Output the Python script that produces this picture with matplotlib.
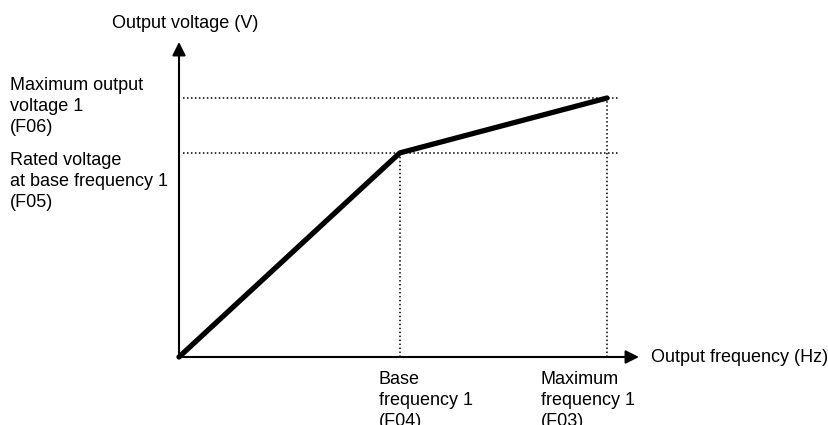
import matplotlib
matplotlib.use("Agg")
import matplotlib.pyplot as plt

# Data (normalised units: max frequency = 1, max voltage = 1)
freq_points = [0.0, 0.516, 1.0]          # origin, base frequency (F04), max frequency (F03)
volt_points = [0.0, 0.788, 1.0]          # origin, rated voltage (F05), max output voltage (F06)
x_axis_label = "Output frequency (Hz)"
y_axis_label = "Output voltage (V)"
x_tick_labels = ["Base\nfrequency 1\n(F04)", "Maximum\nfrequency 1\n(F03)"]
y_tick_labels = ["Rated voltage\nat base frequency 1\n(F05)", "Maximum output\nvoltage 1\n(F06)"]

plt.rcParams['font.family'] = ['Liberation Sans', 'DejaVu Sans']
W, H = 829, 425
X0, Y0 = 179, 357      # origin in pixels (from top-left)
X1, Y1 = 607, 98       # x=1 / y=1 in pixels
fig = plt.figure(figsize=(W / 100, H / 100), dpi=100)
ax = fig.add_axes([X0 / W, (H - Y0) / H, (X1 - X0) / W, (Y0 - Y1) / H])
ax.set_xlim(0, 1)
ax.set_ylim(0, 1)
ax.axis('off')


def dx(px):
    return (px - X0) / (X1 - X0)


def dy(py):
    return (Y0 - py) / (Y0 - Y1)


fs = 13
ls = 1.3

# axes arrows
ax.annotate("", xy=(dx(639), 0), xytext=(0, 0),
            arrowprops=dict(arrowstyle='-|>', color='black', lw=1.5,
                            mutation_scale=20, shrinkA=0, shrinkB=0),
            annotation_clip=False)
ax.annotate("", xy=(0, dy(42)), xytext=(0, 0),
            arrowprops=dict(arrowstyle='-|>', color='black', lw=1.5,
                            mutation_scale=20, shrinkA=0, shrinkB=0),
            annotation_clip=False)

# dotted guides
dot = (0, (1, 1.6))
for v in volt_points[1:]:
    ax.plot([dx(183), dx(620)], [v, v], color='black', lw=1.1, linestyle=dot, clip_on=False)
for f, v in zip(freq_points[1:], volt_points[1:]):
    ax.plot([f, f], [0, v], color='black', lw=1.1, linestyle=dot, clip_on=False)

# V/f curve
ax.plot(freq_points, volt_points, color='black', lw=3.8, solid_capstyle='round',
        solid_joinstyle='round', clip_on=False, zorder=5)

# labels
ax.text(dx(651), 0, x_axis_label, fontsize=fs, va='center', ha='left')
ax.text(dx(112), dy(23), y_axis_label, fontsize=fs, va='center', ha='left')

x_label_left = [379, 541]
for lab, lx in zip(x_tick_labels, x_label_left):
    ax.text(dx(lx), dy(371), lab, fontsize=fs, va='top', ha='left', linespacing=ls)

y_label_tops = [152, 77]
for top, lab in zip(y_label_tops, y_tick_labels):
    ax.text(dx(10), dy(top), lab, fontsize=fs, va='top', ha='left', linespacing=ls)

fig.savefig("out.png", dpi=100, facecolor='white')
